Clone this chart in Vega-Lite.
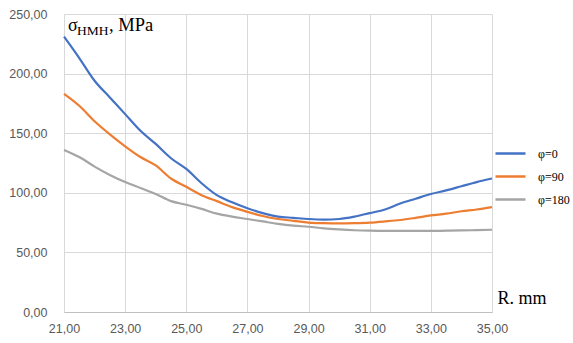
{
  "$schema": "https://vega.github.io/schema/vega-lite/v6.json",
  "width": 428,
  "height": 298,
  "autosize": {"type": "none"},
  "padding": {"left": 64, "top": 14, "right": 81, "bottom": 31},
  "background": "white",
  "config": {
    "view": {"stroke": null},
    "axis": {"gridColor": "#d9d9d9", "gridWidth": 1, "labelColor": "#595959", "labelFont": "Liberation Sans", "labelFontSize": 12.5, "ticks": false, "labelFlush": false},
    "legend": {"labelFont": "Liberation Serif"}
  },
  "datasets": {
    "curves": [
      {"R": 21, "s": 231, "phi": "φ=0"}, {"R": 21.5, "s": 213, "phi": "φ=0"}, {"R": 22, "s": 194, "phi": "φ=0"}, {"R": 22.5, "s": 180, "phi": "φ=0"}, {"R": 23, "s": 166, "phi": "φ=0"}, {"R": 23.5, "s": 152, "phi": "φ=0"}, {"R": 24, "s": 141, "phi": "φ=0"}, {"R": 24.5, "s": 129, "phi": "φ=0"}, {"R": 25, "s": 120, "phi": "φ=0"}, {"R": 25.5, "s": 108, "phi": "φ=0"}, {"R": 26, "s": 98, "phi": "φ=0"}, {"R": 26.5, "s": 92, "phi": "φ=0"}, {"R": 27, "s": 87, "phi": "φ=0"}, {"R": 27.5, "s": 83, "phi": "φ=0"}, {"R": 28, "s": 80, "phi": "φ=0"}, {"R": 28.5, "s": 79, "phi": "φ=0"}, {"R": 29, "s": 78, "phi": "φ=0"}, {"R": 29.5, "s": 77.5, "phi": "φ=0"}, {"R": 30, "s": 78, "phi": "φ=0"}, {"R": 30.5, "s": 80, "phi": "φ=0"}, {"R": 31, "s": 83, "phi": "φ=0"}, {"R": 31.5, "s": 86, "phi": "φ=0"}, {"R": 32, "s": 91, "phi": "φ=0"}, {"R": 32.5, "s": 95, "phi": "φ=0"}, {"R": 33, "s": 99, "phi": "φ=0"}, {"R": 33.5, "s": 102, "phi": "φ=0"}, {"R": 34, "s": 105.5, "phi": "φ=0"}, {"R": 34.5, "s": 109, "phi": "φ=0"}, {"R": 35, "s": 112, "phi": "φ=0"},
      {"R": 21, "s": 183, "phi": "φ=90"}, {"R": 21.5, "s": 173, "phi": "φ=90"}, {"R": 22, "s": 160, "phi": "φ=90"}, {"R": 22.5, "s": 149, "phi": "φ=90"}, {"R": 23, "s": 139, "phi": "φ=90"}, {"R": 23.5, "s": 130, "phi": "φ=90"}, {"R": 24, "s": 123, "phi": "φ=90"}, {"R": 24.5, "s": 112, "phi": "φ=90"}, {"R": 25, "s": 105, "phi": "φ=90"}, {"R": 25.5, "s": 98, "phi": "φ=90"}, {"R": 26, "s": 93, "phi": "φ=90"}, {"R": 26.5, "s": 88, "phi": "φ=90"}, {"R": 27, "s": 84, "phi": "φ=90"}, {"R": 27.5, "s": 80.5, "phi": "φ=90"}, {"R": 28, "s": 78, "phi": "φ=90"}, {"R": 28.5, "s": 76.5, "phi": "φ=90"}, {"R": 29, "s": 75, "phi": "φ=90"}, {"R": 29.5, "s": 74.5, "phi": "φ=90"}, {"R": 30, "s": 74.3, "phi": "φ=90"}, {"R": 30.5, "s": 74.5, "phi": "φ=90"}, {"R": 31, "s": 75, "phi": "φ=90"}, {"R": 31.5, "s": 76, "phi": "φ=90"}, {"R": 32, "s": 77.2, "phi": "φ=90"}, {"R": 32.5, "s": 79, "phi": "φ=90"}, {"R": 33, "s": 81, "phi": "φ=90"}, {"R": 33.5, "s": 82.5, "phi": "φ=90"}, {"R": 34, "s": 84.5, "phi": "φ=90"}, {"R": 34.5, "s": 86, "phi": "φ=90"}, {"R": 35, "s": 88, "phi": "φ=90"},
      {"R": 21, "s": 136, "phi": "φ=180"}, {"R": 21.5, "s": 130, "phi": "φ=180"}, {"R": 22, "s": 122, "phi": "φ=180"}, {"R": 22.5, "s": 115, "phi": "φ=180"}, {"R": 23, "s": 109, "phi": "φ=180"}, {"R": 23.5, "s": 104, "phi": "φ=180"}, {"R": 24, "s": 99, "phi": "φ=180"}, {"R": 24.5, "s": 93, "phi": "φ=180"}, {"R": 25, "s": 90, "phi": "φ=180"}, {"R": 25.5, "s": 86.5, "phi": "φ=180"}, {"R": 26, "s": 82.5, "phi": "φ=180"}, {"R": 26.5, "s": 80, "phi": "φ=180"}, {"R": 27, "s": 78, "phi": "φ=180"}, {"R": 27.5, "s": 76, "phi": "φ=180"}, {"R": 28, "s": 74, "phi": "φ=180"}, {"R": 28.5, "s": 72.5, "phi": "φ=180"}, {"R": 29, "s": 71.5, "phi": "φ=180"}, {"R": 29.5, "s": 70.2, "phi": "φ=180"}, {"R": 30, "s": 69.3, "phi": "φ=180"}, {"R": 30.5, "s": 68.6, "phi": "φ=180"}, {"R": 31, "s": 68.2, "phi": "φ=180"}, {"R": 31.5, "s": 68, "phi": "φ=180"}, {"R": 32, "s": 68, "phi": "φ=180"}, {"R": 32.5, "s": 68, "phi": "φ=180"}, {"R": 33, "s": 68, "phi": "φ=180"}, {"R": 33.5, "s": 68.2, "phi": "φ=180"}, {"R": 34, "s": 68.4, "phi": "φ=180"}, {"R": 34.5, "s": 68.7, "phi": "φ=180"}, {"R": 35, "s": 69, "phi": "φ=180"}
    ]
  },
  "layer": [
    {
      "data": {"name": "curves"},
      "mark": {"type": "line", "strokeWidth": 2.2, "interpolate": "monotone"},
      "encoding": {
        "x": {"field": "R", "type": "quantitative", "scale": {"domain": [21, 35], "nice": false, "zero": false},
          "axis": {"values": [21, 23, 25, 27, 29, 31, 33, 35], "title": "R. mm", "titleFont": "Liberation Serif", "titleFontSize": 18, "titleFontWeight": "normal", "titleColor": "#000000", "titleAnchor": "start", "titleAlign": "left", "titleBaseline": "middle", "titleX": 433, "titleY": -14, "labelPadding": 10, "domainColor": "#bfbfbf", "domainWidth": 1, "labelExpr": "replace(format(datum.value, '.2f'), '.', ',')"}},
        "y": {"field": "s", "type": "quantitative", "scale": {"domain": [0, 250], "nice": false},
          "axis": {"values": [0, 50, 100, 150, 200, 250], "title": null, "domain": false, "labelPadding": 17, "labelExpr": "replace(format(datum.value, '.2f'), '.', ',')"}},
        "color": {"field": "phi", "type": "nominal", "sort": ["φ=0", "φ=90", "φ=180"],
          "scale": {"domain": ["φ=0", "φ=90", "φ=180"], "range": ["#4472c4", "#ed7d31", "#a5a5a5"]},
          "legend": {"title": null, "orient": "none", "legendX": 430, "legendY": 123, "padding": 0, "symbolType": "stroke", "symbolSize": 900, "symbolStrokeWidth": 2.5, "labelFont": "Liberation Serif", "labelFontSize": 12, "labelColor": "#000000", "labelOffset": 11, "labelLimit": 0, "rowPadding": -7.5}}
      }
    },
    {
      "data": {"values": [{"t": "σ"}]},
      "mark": {"type": "text", "font": "Liberation Serif", "fontSize": 18, "align": "left", "baseline": "alphabetic", "dx": 4, "dy": 17, "color": "#000000"},
      "encoding": {"x": {"datum": 21}, "y": {"datum": 250}, "text": {"field": "t"}}
    },
    {
      "data": {"values": [{"t": "HMH"}]},
      "mark": {"type": "text", "font": "Liberation Serif", "fontSize": 13.5, "align": "left", "baseline": "alphabetic", "dx": 13, "dy": 21, "color": "#000000"},
      "encoding": {"x": {"datum": 21}, "y": {"datum": 250}, "text": {"field": "t"}}
    },
    {
      "data": {"values": [{"t": ", MPa"}]},
      "mark": {"type": "text", "font": "Liberation Serif", "fontSize": 18.5, "align": "left", "baseline": "alphabetic", "dx": 45, "dy": 17, "color": "#000000"},
      "encoding": {"x": {"datum": 21}, "y": {"datum": 250}, "text": {"field": "t"}}
    }
  ]
}
